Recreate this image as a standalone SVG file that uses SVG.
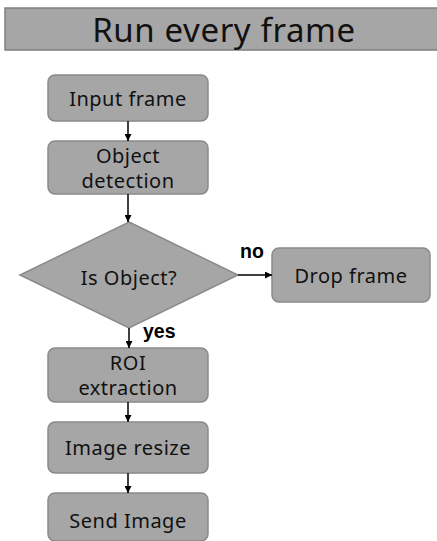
<svg xmlns="http://www.w3.org/2000/svg" width="437" height="541" viewBox="0 0 437 541">
<defs>
<style>
.box{fill:#a6a6a6;stroke:#8a8a8a;stroke-width:1.5}
.t{font-family:"Noto Sans","Open Sans",sans-serif;font-size:20px;letter-spacing:0.5px;fill:#111;text-anchor:middle}
.lbl{font-family:"Liberation Sans",Arial,sans-serif;font-size:19.5px;font-weight:bold;fill:#000}
.ln{stroke:#000;stroke-width:1.5;fill:none;marker-end:url(#ah)}
</style>
<marker id="ah" viewBox="0 0 10 10" refX="10" refY="5" markerWidth="7" markerHeight="7" markerUnits="userSpaceOnUse" orient="auto"><path d="M0,0 L10,5 L0,10 z" fill="#000"/></marker>
</defs>
<rect width="437" height="541" fill="#fff"/>
<g id="title">
<rect x="5" y="8" width="434" height="42" fill="#a6a6a6" stroke="#7f7f7f" stroke-width="1.5"/>
<text x="224" y="42" font-family="Noto Sans,Open Sans,sans-serif" font-size="33" letter-spacing="0.6" text-anchor="middle" fill="#111">Run every frame</text>
</g>
<g id="input"><rect class="box" x="48" y="75" width="160" height="46" rx="7"/><text class="t" x="128" y="106">Input frame</text></g>
<g id="detect"><rect class="box" x="48" y="141" width="160" height="53" rx="7"/><text class="t" x="128" y="163">Object</text><text class="t" x="128" y="188">detection</text></g>
<g id="decision"><polygon class="box" points="129,222 238,275 129,328 20,275"/><text class="t" x="129" y="285">Is Object?</text></g>
<g id="drop"><rect class="box" x="272" y="248" width="158" height="54" rx="7"/><text class="t" x="351" y="283">Drop frame</text></g>
<g id="roi"><rect class="box" x="48" y="348" width="160" height="54" rx="7"/><text class="t" x="128" y="370">ROI</text><text class="t" x="128" y="395">extraction</text></g>
<g id="resize"><rect class="box" x="48" y="422" width="160" height="51" rx="7"/><text class="t" x="128" y="455">Image resize</text></g>
<g id="send"><rect class="box" x="48" y="493" width="160" height="48" rx="7"/><text class="t" x="128" y="528">Send Image</text></g>
<g id="connectors">
<line class="ln" x1="128" y1="121" x2="128" y2="141"/>
<line class="ln" x1="128" y1="194" x2="128" y2="222"/>
<line class="ln" x1="238" y1="275" x2="272" y2="275"/>
<line class="ln" x1="129" y1="328" x2="129" y2="348"/>
<line class="ln" x1="128" y1="402" x2="128" y2="422"/>
<line class="ln" x1="128" y1="473" x2="128" y2="493"/>
<text class="lbl" x="240" y="258">no</text>
<text class="lbl" x="143" y="338">yes</text>
</g>
</svg>
